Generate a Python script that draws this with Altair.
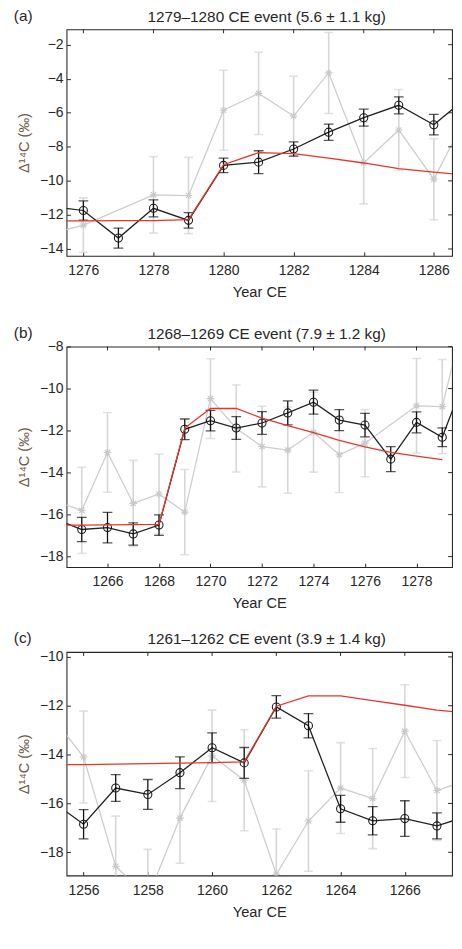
import altair as alt
import pandas as pd

# ---- measured data (shared by all panels) ----
years = list(range(1255, 1288))
black = [-15.9, -16.85, -15.37, -15.63, -14.74, -13.72, -14.34, -12.05, -12.82, -16.22,
         -16.71, -16.62, -16.92, -16.5, -11.94, -11.53, -11.88, -11.64, -11.16, -10.65,
         -11.5, -11.74, -13.36, -11.61, -12.32, -9.09, -8.9, -8.13, -7.14, -6.29,
         -5.56, -6.7, -5.0]
black_err = [0.6, 0.6, 0.55, 0.61, 0.65, 0.61, 0.63, 0.46, 0.5, 0.55,
             0.58, 0.73, 0.53, 0.49, 0.49, 0.49, 0.54, 0.54, 0.57, 0.57,
             0.5, 0.56, 0.59, 0.5, 0.45, 0.43, 0.67, 0.42, 0.48, 0.5,
             0.5, 0.6, 0.5]
gray_years = [1255, 1256, 1257, 1258, 1259, 1260, 1261, 1262, 1263, 1264, 1265, 1266,
              1267, 1268, 1269, 1270, 1271, 1272, 1273, 1274, 1275, 1276, 1278, 1279,
              1280, 1281, 1282, 1283, 1284, 1285, 1286, 1287]
gray = [-12.42, -14.1, -18.57, -19.85, -16.6, -14.05, -15.05, -18.9, -16.72, -15.37,
        -15.8, -13.04, -15.47, -15.02, -15.88, -10.48, -11.9, -12.76, -12.93, -12.08,
        -13.15, -12.6, -10.82, -10.86, -5.85, -4.86, -6.19, -3.66, -8.95, -7.01,
        -9.9, -5.9]
gray_err = [2.0, 1.88, 2.05, 1.97, 1.85, 1.87, 2.07, 1.85, 2.06, 1.86,
            2.05, 1.9, 2.05, 1.9, 2.03, 1.9, 2.07, 1.92, 2.05, 1.9,
            1.8, 1.6, 2.25, 2.24, 2.35, 2.42, 2.34, 2.38, 2.4, 2.38,
            2.38, 2.3]

# ---- modelled event curves (red) ----
model_a_years = list(range(1275, 1288))
model_a = [-12.36, -12.35, -12.34, -12.33, -12.27, -9.05, -8.34, -8.4, -8.67, -8.95,
           -9.28, -9.49, -9.68]
model_b_years = list(range(1264, 1280))
model_b = [-16.5, -16.5, -16.49, -16.48, -16.47, -11.88, -10.95, -10.95, -11.41, -11.77,
           -12.1, -12.47, -12.78, -13.04, -13.22, -13.38]
model_c_years = list(range(1255, 1269))
model_c = [-14.42, -14.41, -14.39, -14.37, -14.35, -14.33, -14.3, -12.02, -11.6, -11.6,
           -11.79, -11.98, -12.18, -12.3]

# ---- panel definitions ----
panel_labels = ["(a)", "(b)", "(c)"]
panel_titles = ["1279\u20131280 CE event (5.6 \u00b1 1.1 kg)",
                "1268\u20131269 CE event (7.9 \u00b1 1.2 kg)",
                "1261\u20131262 CE event (3.9 \u00b1 1.4 kg)"]
x_domains = [[1275.52, 1286.52], [1264.41, 1279.38], [1255.47, 1267.47]]
y_domains = [[-14.4, -1.1], [-18.5, -8.0], [-18.95, -9.8]]
x_ticks = [[1276, 1278, 1280, 1282, 1284, 1286],
           [1266, 1268, 1270, 1272, 1274, 1276, 1278],
           [1256, 1258, 1260, 1262, 1264, 1266]]
y_ticks = [[-14, -12, -10, -8, -6, -4, -2],
           [-18, -16, -14, -12, -10, -8],
           [-18, -16, -14, -12, -10]]
models = [(model_a_years, model_a), (model_b_years, model_b), (model_c_years, model_c)]

FONT = "Liberation Sans"
TXT = "#262626"
W = 395
HEIGHTS = [232, 226, 229]
TICK = 4

meas = pd.DataFrame({"year": years, "v": black, "e": black_err})
meas["lo"] = meas["v"] - meas["e"]
meas["hi"] = meas["v"] + meas["e"]
gdf = pd.DataFrame({"year": gray_years, "v": gray, "e": gray_err})
gdf["lo"] = gdf["v"] - gdf["e"]
gdf["hi"] = gdf["v"] + gdf["e"]

STAR = "M0,-1L0,1M-1,0L1,0M-0.7,-0.7L0.7,0.7M-0.7,0.7L0.7,-0.7"


def panel(i):
    xd, yd = x_domains[i], y_domains[i]
    xs = alt.Scale(domain=xd, nice=False, zero=False)
    ys = alt.Scale(domain=yd, nice=False, zero=False)

    def X(axis=None, field="year"):
        return alt.X(f"{field}:Q", scale=xs, axis=axis)

    def Y(field="v", axis=None):
        return alt.Y(f"{field}:Q", scale=ys, axis=axis)

    lo_y, hi_y = xd[0] - 1, xd[1] + 1
    m = meas[(meas.year >= lo_y) & (meas.year <= hi_y)]
    g = gdf[(gdf.year >= lo_y) & (gdf.year <= hi_y)]
    my, mv = models[i]
    mdf = pd.DataFrame({"year": my, "v": mv})

    ax_bottom = alt.Axis(orient="bottom", values=x_ticks[i], format="d", offset=-TICK,
                         tickSize=TICK, domain=False, grid=False, labelPadding=8,
                         title="Year CE", titlePadding=7.5)
    ax_left = alt.Axis(orient="left", values=y_ticks[i], offset=-TICK, tickSize=TICK,
                       domain=False, grid=False, labelPadding=3.5,
                       title="\u0394\u00b9\u2074C (\u2030)", titlePadding=8)

    # inward ticks on the top and right edges of the box
    top_ticks = alt.Chart(pd.DataFrame({"t": x_ticks[i]})).mark_rule(
        color=TXT, strokeWidth=1).encode(
        x=X(field="t"), y=alt.value(0), y2=alt.value(TICK))
    right_ticks = alt.Chart(pd.DataFrame({"t": y_ticks[i]})).mark_rule(
        color=TXT, strokeWidth=1).encode(
        y=Y("t"), x=alt.value(W - TICK), x2=alt.value(W))

    gray_c = "#d6d6d6"
    g_line = alt.Chart(g).mark_line(color="#cdcdcd", strokeWidth=1.3, clip=True).encode(
        x=X(ax_bottom), y=Y("v", ax_left))
    g_bar = alt.Chart(g).mark_rule(color=gray_c, strokeWidth=1.6, clip=True).encode(
        x=X(), y=Y("lo"), y2="hi:Q")
    g_cap_lo = alt.Chart(g).mark_tick(color=gray_c, size=9, thickness=1.6,
                                      orient="horizontal", clip=True).encode(x=X(), y=Y("lo"))
    g_cap_hi = alt.Chart(g).mark_tick(color=gray_c, size=9, thickness=1.6,
                                      orient="horizontal", clip=True).encode(x=X(), y=Y("hi"))
    g_pts = alt.Chart(g).mark_point(shape=STAR, size=60, filled=False, color="#c9c9c9",
                                    strokeWidth=1.2, opacity=1, clip=True).encode(x=X(), y=Y("v"))

    b_line = alt.Chart(m).mark_line(color="#202020", strokeWidth=1.3, clip=True).encode(
        x=X(), y=Y("v"))
    b_bar = alt.Chart(m).mark_rule(color="#111111", strokeWidth=1.3, clip=True).encode(
        x=X(), y=Y("lo"), y2="hi:Q")
    b_cap_lo = alt.Chart(m).mark_tick(color="#111111", size=10, thickness=1.3,
                                      orient="horizontal", clip=True).encode(x=X(), y=Y("lo"))
    b_cap_hi = alt.Chart(m).mark_tick(color="#111111", size=10, thickness=1.3,
                                      orient="horizontal", clip=True).encode(x=X(), y=Y("hi"))
    b_pts = alt.Chart(m).mark_point(shape="circle", size=68, filled=False, color="#1a1a1a",
                                    strokeWidth=1.1, opacity=1, clip=True).encode(x=X(), y=Y("v"))

    red = alt.Chart(mdf).mark_line(color="#e8352b", strokeWidth=1.3, clip=True).encode(
        x=X(), y=Y("v"))

    tdf = pd.DataFrame({"lab": [panel_labels[i]], "title": [panel_titles[i]]})
    lab = alt.Chart(tdf).mark_text(font=FONT, fontSize=15.7, color=TXT, align="left",
                                   baseline="middle").encode(
        text="lab:N", x=alt.value(-54), y=alt.value(-14))
    ttl = alt.Chart(tdf).mark_text(font=FONT, fontSize=15.7, color=TXT, align="center",
                                   baseline="middle").encode(
        text="title:N", x=alt.value(205), y=alt.value(-13))

    return alt.layer(g_line, g_bar, g_cap_lo, g_cap_hi, g_pts,
                     b_line, b_bar, b_cap_lo, b_cap_hi, b_pts, red,
                     top_ticks, right_ticks, lab, ttl).resolve_axis(
        x="independent", y="independent").properties(width=W, height=HEIGHTS[i])


lower = alt.vconcat(panel(1), panel(2), spacing=87, bounds="flush")
chart = alt.vconcat(panel(0), lower, spacing=93, bounds="flush").properties(
    padding={"left": 5, "top": -12.5, "right": 0, "bottom": 0}
).configure_view(stroke="#262626", strokeWidth=1.1).configure_axis(
    labelFont=FONT, labelFontSize=14.3, labelColor=TXT, tickColor=TXT, tickWidth=1,
    titleFont=FONT, titleFontSize=15, titleFontWeight="normal", titleColor=TXT
).configure_axisLeft(titleColor="#6b5645")

chart.save("out.html", embed_options={"renderer": "svg", "actions": False})
